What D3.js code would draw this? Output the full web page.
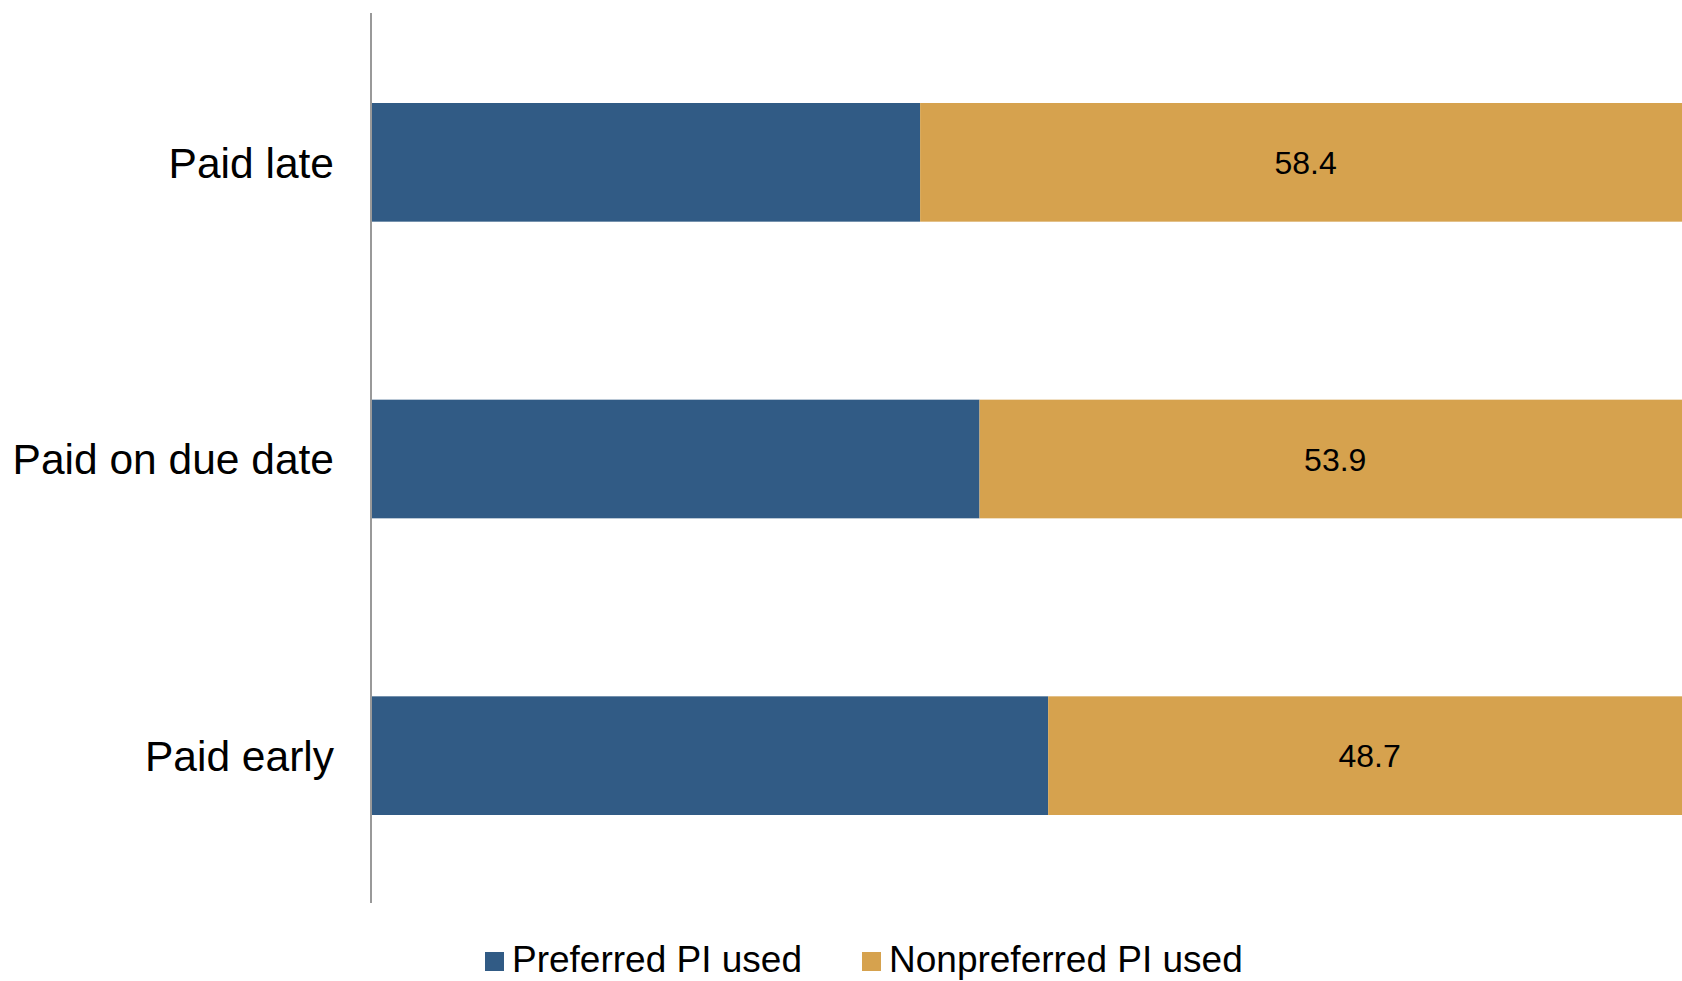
<!DOCTYPE html>
<html>
<head>
<meta charset="utf-8">
<script src="https://cdn.jsdelivr.net/npm/d3@7"></script>
<style>
  html, body { margin: 0; padding: 0; background: #fff; }
  svg { display: block; font-family: Arial, "Liberation Sans", sans-serif; }
</style>
</head>
<body>
<svg id="chart" width="1682" height="981"></svg>
<script>
// Payment timing categories, top to bottom
const categories = ["Paid late", "Paid on due date", "Paid early"];
// Share of payments (%) by payment instrument
const preferred = [41.6, 46.1, 51.3];
const nonpreferred = [58.4, 53.9, 48.7];
const seriesNames = ["Preferred PI used", "Nonpreferred PI used"];
const seriesColors = ["#315b85", "#d6a24e"];

const svg = d3.select("#chart");
const rows = categories.map((c, i) => ({ cat: c, pref: preferred[i], non: nonpreferred[i] }));
const stack = d3.stack().keys(["pref", "non"])(rows);

const x = d3.scaleLinear().domain([0, 100]).range([371, 1691]);
const y = d3.scaleBand().domain(categories).range([14, 904]).paddingInner(0.6).paddingOuter(0.3);

// Stacked bars
svg.append("g").selectAll("g")
  .data(stack)
  .join("g")
  .attr("fill", (d, i) => seriesColors[i])
  .selectAll("rect")
  .data(d => d)
  .join("rect")
  .attr("x", d => x(d[0]))
  .attr("y", d => y(d.data.cat))
  .attr("width", d => x(d[1]) - x(d[0]))
  .attr("height", y.bandwidth());

// Value labels on the nonpreferred segment
svg.append("g").selectAll("text")
  .data(stack[1])
  .join("text")
  .attr("x", d => (x(d[0]) + x(d[1])) / 2)
  .attr("y", d => y(d.data.cat) + y.bandwidth() / 2)
  .attr("dy", "0.36em")
  .attr("text-anchor", "middle")
  .attr("font-size", 32)
  .attr("fill", "#000")
  .text(d => d.data.non.toFixed(1));

// Category axis
const yAxis = svg.append("g")
  .attr("transform", `translate(${x(0)},0)`)
  .call(d3.axisLeft(y).tickSize(0).tickPadding(37));
yAxis.select(".domain").attr("stroke", "#999").attr("stroke-width", 2).attr("d", `M0,13V903`);
yAxis.selectAll("text")
  .attr("font-size", 42.5)
  .attr("font-family", "Arial, 'Liberation Sans', sans-serif")
  .attr("fill", "#000")
  .attr("dy", "0.36em");

// Legend
const legendItems = [
  { name: seriesNames[0], color: seriesColors[0], x: 485 },
  { name: seriesNames[1], color: seriesColors[1], x: 862 }
];
const lg = svg.append("g").selectAll("g").data(legendItems).join("g")
  .attr("transform", d => `translate(${d.x},952)`);
lg.append("rect").attr("width", 19).attr("height", 19).attr("fill", d => d.color);
lg.append("text")
  .attr("x", 27)
  .attr("y", 7)
  .attr("dy", "0.36em")
  .attr("font-size", 37)
  .attr("fill", "#000")
  .text(d => d.name);
</script>
</body>
</html>
